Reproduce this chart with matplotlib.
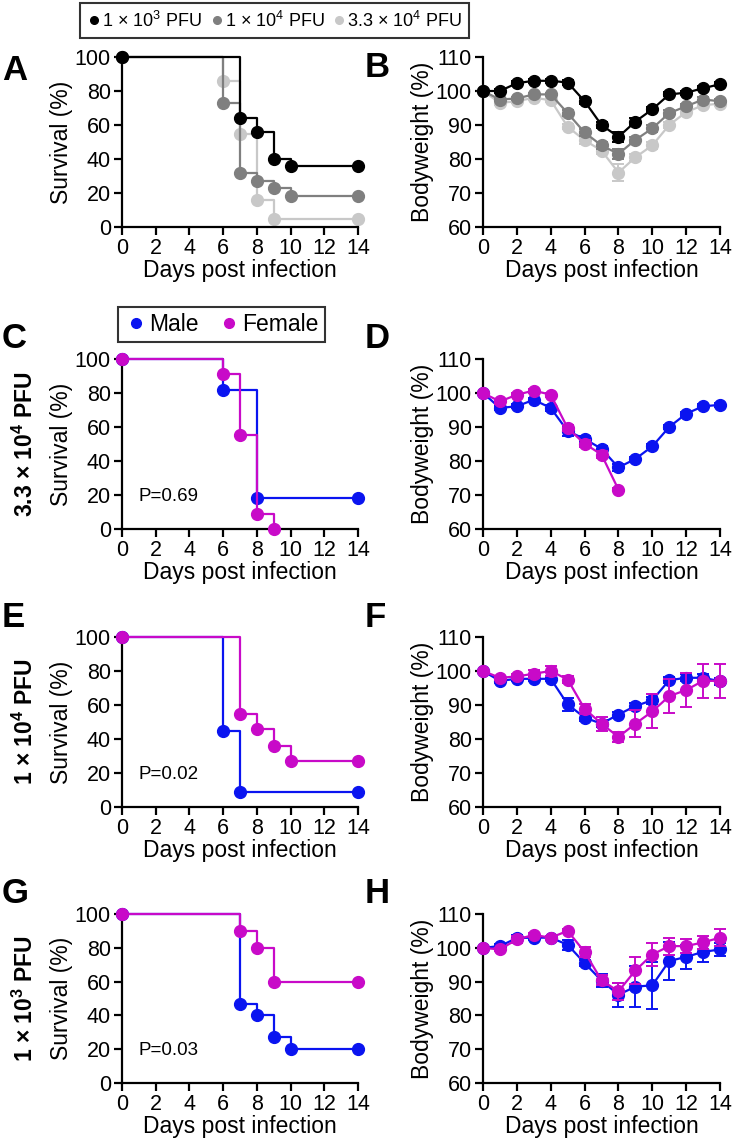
import matplotlib
matplotlib.use("Agg")
import matplotlib.pyplot as plt
from matplotlib.lines import Line2D

plt.rcParams['font.family'] = ['Liberation Sans', 'DejaVu Sans']
plt.rcParams['mathtext.fontset'] = 'custom'
plt.rcParams['mathtext.rm'] = 'Liberation Sans'
plt.rcParams['mathtext.it'] = 'Liberation Sans'
plt.rcParams['mathtext.bf'] = 'Liberation Sans:bold'

# ---------------- data ----------------
days = list(range(15))

# Panel A: survival by dose (event times, survival %)
A_t_1e3 = [0, 7, 8, 9, 10, 14]
A_s_1e3 = [100, 64, 56, 40, 36, 36]
A_t_1e4 = [0, 6, 7, 8, 9, 10, 14]
A_s_1e4 = [100, 73, 32, 27, 23, 18, 18]
A_t_33e4 = [0, 6, 7, 8, 9, 14]
A_s_33e4 = [100, 86, 55, 16, 5, 5]

# Panel B: bodyweight by dose
B_w_1e3 = [100, 100, 102.3, 103, 103, 102.5, 97, 90, 86.5, 91, 94.6, 99, 99.5, 100.8, 102]
B_e_1e3 = [0, 0.5, 0.5, 0.5, 0.5, 0.6, 0.8, 1.0, 1.5, 1.0, 0.8, 0.6, 0.6, 0.6, 0.6]
B_w_1e4 = [100, 97.5, 97.8, 99, 99, 93.5, 87.8, 84, 81.5, 85.6, 89, 93.5, 95.5, 97.5, 97]
B_e_1e4 = [0, 0.5, 0.5, 0.5, 0.5, 0.8, 1.0, 1.0, 1.5, 1.0, 1.0, 0.8, 0.6, 0.6, 0.6]
B_w_33e4 = [100, 96.5, 97, 98, 97.3, 89.5, 85.5, 82.5, 76, 80.5, 84, 90, 93.8, 95.8, 96.3]
B_e_33e4 = [0, 0.5, 0.5, 0.5, 0.5, 0.8, 1.0, 1.0, 2.5, 1.0, 1.0, 0.8, 0.6, 0.6, 0.6]

# Panel C: 3.3e4 PFU survival by sex
C_t_m = [0, 6, 8, 14]
C_s_m = [100, 82, 18, 18]
C_t_f = [0, 6, 7, 8, 9]
C_s_f = [100, 91, 55, 9, 0]
C_p = "P=0.69"

# Panel D: 3.3e4 PFU bodyweight by sex
D_w_m = [100, 95.6, 96.1, 98, 95.6, 88.8, 86.5, 83.6, 78.1, 80.6, 84.3, 90, 93.9, 96.1, 96.5]
D_e_m = [0, 0.6, 0.6, 0.6, 1.0, 1.5, 0.8, 0.8, 1.0, 0.6, 0.6, 0.6, 0.6, 0.6, 0.6]
D_days_f = list(range(9))
D_w_f = [100, 97.5, 99.5, 100.7, 99.5, 89.7, 85.1, 81.9, 71.6]
D_e_f = [0, 0.6, 0.6, 0.6, 0.6, 1.0, 1.0, 1.0, 0.5]

# Panel E: 1e4 PFU survival by sex
E_t_m = [0, 6, 7, 14]
E_s_m = [100, 45, 9, 9]
E_t_f = [0, 7, 8, 9, 10, 14]
E_s_f = [100, 55, 46, 36, 27, 27]
E_p = "P=0.02"

# Panel F: 1e4 PFU bodyweight by sex
F_w_m = [100, 97.1, 97.7, 97.7, 97.7, 90.2, 86.3, 84.5, 87.2, 89.7, 91.4, 97.3, 98, 98, 97]
F_e_m = [0, 0.6, 0.6, 0.6, 0.6, 2.0, 1.0, 1.0, 0.8, 0.8, 1.0, 0.8, 1.0, 1.0, 1.0]
F_w_f = [100, 98, 98.4, 99.2, 100, 97.5, 88.9, 84.5, 80.6, 84.5, 88.1, 92.6, 94.4, 97.1, 97.1]
F_e_f = [0, 0.6, 0.8, 1.2, 1.5, 1.0, 1.5, 2.0, 1.5, 4.0, 5.0, 5.0, 5.0, 5.0, 5.0]

# Panel G: 1e3 PFU survival by sex
G_t_m = [0, 7, 8, 9, 10, 14]
G_s_m = [100, 47, 40, 27, 20, 20]
G_t_f = [0, 7, 8, 9, 14]
G_s_f = [100, 90, 80, 60, 60]
G_p = "P=0.03"

# Panel H: 1e3 PFU bodyweight by sex
H_w_m = [100, 100.5, 102.9, 103, 103, 100.9, 95.5, 90.3, 86.1, 88.5, 88.9, 96.1, 97.3, 98.8, 99.5]
H_e_m = [0, 0.5, 0.8, 0.6, 0.6, 1.5, 1.0, 2.0, 3.5, 6.0, 7.0, 5.5, 3.5, 3.0, 2.0]
H_w_f = [100, 99.5, 102.5, 103.8, 103, 105, 98.8, 90.4, 87.1, 93.3, 98, 100.5, 100.5, 101.6, 103]
H_e_f = [0, 0.5, 1.0, 0.6, 0.6, 0.6, 1.5, 1.5, 2.5, 4.0, 3.5, 2.5, 2.0, 2.0, 2.5]

dose_labels = ['1 × 10$^{3}$ PFU', '1 × 10$^{4}$ PFU', '3.3 × 10$^{4}$ PFU']
sex_labels = ['Male', 'Female']
row_labels = ['3.3 × 10$^{\\mathbf{4}}$ PFU', '1 × 10$^{\\mathbf{4}}$ PFU', '1 × 10$^{\\mathbf{3}}$ PFU']
xticks = [0, 2, 4, 6, 8, 10, 12, 14]

# ---------------- style ----------------
C_BLACK = '#000000'
C_GRAY = '#7f7f7f'
C_LGRAY = '#c8c8c8'
C_MALE = '#0a14f0'
C_FEMALE = '#c80ac8'
LW = 1.6
MS = 8.5
TICK_FS = 15.5
LAB_FS = 16.5

W, H = 733, 1146
fig = plt.figure(figsize=(W / 100, H / 100), dpi=100)


def make_ax(x0, x1, ytop, ybot):
    ax = fig.add_axes([x0 / W, 1 - ybot / H, (x1 - x0) / W, (ybot - ytop) / H])
    for s in ['top', 'right']:
        ax.spines[s].set_visible(False)
    for s in ['left', 'bottom']:
        ax.spines[s].set_linewidth(1.6)
    ax.tick_params(direction='out', length=6, width=1.6, labelsize=TICK_FS, pad=2)
    ax.set_xlim(0, 14)
    ax.set_xticks(xticks)
    ax.set_xlabel('Days post infection', fontsize=LAB_FS, labelpad=0)
    return ax


def surv(ax, t, s, color, z):
    ax.step(t, s, where='post', color=color, lw=LW, zorder=z, clip_on=False)
    ax.plot(t, s, 'o', color=color, ms=MS, zorder=z + 0.5, clip_on=False)


def bw(ax, x, y, e, color, z):
    ax.errorbar(x, y, yerr=e, fmt='-o', color=color, lw=LW, ms=MS, capsize=4.5,
                capthick=1.4, elinewidth=1.4, zorder=z, clip_on=False)


def surv_axes(ax):
    ax.set_ylim(0, 100)
    ax.set_yticks([0, 20, 40, 60, 80, 100])
    ax.set_ylabel('Survival (%)', fontsize=LAB_FS, labelpad=1)


def bw_axes(ax):
    ax.set_ylim(60, 110)
    ax.set_yticks([60, 70, 80, 90, 100, 110])
    ax.set_ylabel('Bodyweight (%)', fontsize=LAB_FS, labelpad=1)


LX0, LX1 = 122, 358
RX0, RX1 = 483, 720
rows = [(57, 227), (359, 529), (637, 807), (914, 1083)]

# Row 1
axA = make_ax(LX0, LX1, *rows[0])
surv_axes(axA)
surv(axA, A_t_33e4, A_s_33e4, C_LGRAY, 2)
surv(axA, A_t_1e4, A_s_1e4, C_GRAY, 3)
surv(axA, A_t_1e3, A_s_1e3, C_BLACK, 4)

axB = make_ax(RX0, RX1, *rows[0])
bw_axes(axB)
bw(axB, days, B_w_33e4, B_e_33e4, C_LGRAY, 2)
bw(axB, days, B_w_1e4, B_e_1e4, C_GRAY, 3)
bw(axB, days, B_w_1e3, B_e_1e3, C_BLACK, 4)

# Row 2
axC = make_ax(LX0, LX1, *rows[1])
surv_axes(axC)
surv(axC, C_t_m, C_s_m, C_MALE, 2)
surv(axC, C_t_f, C_s_f, C_FEMALE, 3)
axC.text(1, 19, C_p, fontsize=13.5, va='center', ha='left')

axD = make_ax(RX0, RX1, *rows[1])
bw_axes(axD)
bw(axD, days, D_w_m, D_e_m, C_MALE, 2)
bw(axD, D_days_f, D_w_f, D_e_f, C_FEMALE, 3)

# Row 3
axE = make_ax(LX0, LX1, *rows[2])
surv_axes(axE)
surv(axE, E_t_m, E_s_m, C_MALE, 2)
surv(axE, E_t_f, E_s_f, C_FEMALE, 3)
axE.text(1, 19, E_p, fontsize=13.5, va='center', ha='left')

axF = make_ax(RX0, RX1, *rows[2])
bw_axes(axF)
bw(axF, days, F_w_m, F_e_m, C_MALE, 2)
bw(axF, days, F_w_f, F_e_f, C_FEMALE, 3)

# Row 4
axG = make_ax(LX0, LX1, *rows[3])
surv_axes(axG)
surv(axG, G_t_m, G_s_m, C_MALE, 2)
surv(axG, G_t_f, G_s_f, C_FEMALE, 3)
axG.text(1, 19, G_p, fontsize=13.5, va='center', ha='left')

axH = make_ax(RX0, RX1, *rows[3])
bw_axes(axH)
bw(axH, days, H_w_m, H_e_m, C_MALE, 2)
bw(axH, days, H_w_f, H_e_f, C_FEMALE, 3)

# Row labels (bold, rotated)
for lab, (yt, yb) in zip(row_labels, rows[1:]):
    fig.text(25 / W, 1 - (yt + yb) / 2 / H, lab, rotation=90, fontsize=16.5,
             fontweight='bold', ha='center', va='center')

# Panel letters
letters = [('A', 2, 80), ('B', 365, 77), ('C', 2, 348), ('D', 365, 348),
           ('E', 2, 627), ('F', 365, 627), ('G', 2, 903), ('H', 365, 903)]
for L, x, yb in letters:
    fig.text(x / W, 1 - yb / H, L, fontsize=25, fontweight='bold', ha='left', va='baseline')

# Top legend (dose)
dose_colors = [C_BLACK, C_GRAY, C_LGRAY]
handles = [Line2D([], [], ls='none', marker='o', color=c, ms=5.5) for c in dose_colors]
leg1 = fig.legend(handles, dose_labels, loc='center', bbox_to_anchor=(274.5 / W, 1 - 20.5 / H),
                  ncol=3, frameon=True, fancybox=False, edgecolor='black',
                  prop={'size': 13},
                  handletextpad=0.05, columnspacing=0.4, handlelength=0.8, borderpad=0.4,
                  borderaxespad=0)
leg1.get_frame().set_linewidth(1.5)

# Sex legend
sex_colors = [C_MALE, C_FEMALE]
handles2 = [Line2D([], [], ls='none', marker='o', color=c, ms=7) for c in sex_colors]
leg2 = fig.legend(handles2, sex_labels, loc='center', bbox_to_anchor=(221.5 / W, 1 - 324.5 / H),
                  ncol=2, frameon=True, fancybox=False, edgecolor='black',
                  prop={'size': 16.5}, handletextpad=0.1, columnspacing=0.8,
                  handlelength=1.0, borderpad=0.25, borderaxespad=0)
leg2.get_frame().set_linewidth(1.5)

fig.savefig('out.png', dpi=100)
